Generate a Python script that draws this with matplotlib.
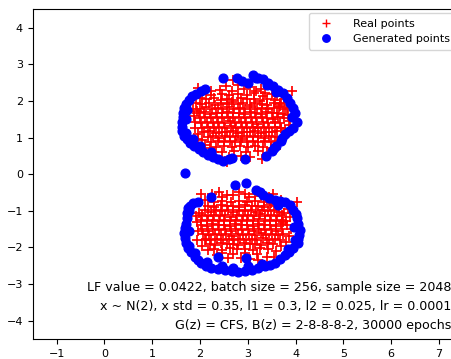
import matplotlib
matplotlib.use("Agg")
import matplotlib.pyplot as plt

# ---- data ----
real_upper = [
    (2.42,2.31),(2.66,2.28),(2.93,2.33),(3.18,2.27),(3.36,2.22),
    (2.22,2.17),(2.45,2.20),(2.60,2.15),(2.79,2.19),(2.98,2.16),(3.13,2.21),(3.31,2.14),(3.50,2.18),
    (2.13,2.04),(2.30,2.07),(2.43,2.02),(2.57,2.06),(2.70,2.03),(2.85,2.08),(2.99,2.04),(3.12,2.06),(3.25,2.01),(3.41,2.05),(3.57,2.03),
    (2.04,1.92),(2.18,1.95),(2.31,1.90),(2.43,1.94),(2.56,1.91),(2.67,1.96),(2.79,1.92),(2.91,1.94),(3.04,1.90),(3.16,1.95),(3.29,1.92),(3.41,1.89),(3.54,1.94),(3.67,1.91),
    (2.01,1.79),(2.12,1.82),(2.25,1.78),(2.37,1.81),(2.48,1.77),(2.60,1.82),(2.72,1.79),(2.84,1.81),(2.95,1.78),(3.07,1.82),(3.19,1.79),(3.30,1.81),(3.42,1.77),(3.54,1.80),(3.66,1.82),(3.77,1.78),
    (1.97,1.66),(2.09,1.69),(2.21,1.65),(2.34,1.68),(2.46,1.66),(2.57,1.70),(2.69,1.66),(2.81,1.68),(2.92,1.65),(3.04,1.69),(3.16,1.67),(3.27,1.64),(3.39,1.69),(3.51,1.66),(3.62,1.68),(3.74,1.65),
    (1.99,1.53),(2.11,1.56),(2.23,1.52),(2.36,1.55),(2.47,1.53),(2.59,1.57),(2.70,1.52),(2.82,1.55),(2.94,1.53),(3.06,1.56),(3.17,1.52),(3.29,1.55),(3.41,1.54),(3.52,1.51),(3.64,1.56),(3.76,1.53),
    (2.02,1.40),(2.14,1.43),(2.27,1.39),(2.38,1.42),(2.50,1.40),(2.62,1.44),(2.73,1.39),(2.85,1.42),(2.97,1.40),(3.08,1.43),(3.20,1.38),(3.32,1.42),(3.43,1.40),(3.56,1.43),(3.67,1.39),
    (2.05,1.27),(2.16,1.30),(2.29,1.26),(2.40,1.29),(2.52,1.27),(2.64,1.31),(2.75,1.26),(2.87,1.29),(2.99,1.27),(3.10,1.30),(3.22,1.25),(3.34,1.29),(3.45,1.27),(3.57,1.30),(3.69,1.26),
    (2.09,1.14),(2.21,1.17),(2.34,1.13),(2.45,1.16),(2.57,1.14),(2.69,1.18),(2.80,1.13),(2.92,1.16),(3.04,1.14),(3.15,1.17),(3.27,1.12),(3.39,1.16),(3.50,1.14),(3.62,1.17),
    (2.16,1.01),(2.28,1.04),(2.40,1.00),(2.52,1.03),(2.63,1.01),(2.75,1.05),(2.87,1.00),(2.98,1.03),(3.10,1.01),(3.22,1.04),(3.33,0.99),(3.45,1.03),(3.57,1.01),
    (2.24,0.88),(2.37,0.91),(2.50,0.87),(2.62,0.90),(2.74,0.88),(2.86,0.92),(2.98,0.87),(3.10,0.90),(3.22,0.88),(3.35,0.91),(3.48,0.87),
    (2.34,0.75),(2.51,0.78),(2.67,0.74),(2.84,0.77),(3.00,0.75),(3.16,0.78),(3.32,0.74),
    (2.46,0.61),(2.71,0.64),(2.96,0.60),(3.21,0.63),
    (2.69,2.58),(1.96,2.36),(3.92,2.27),(2.24,2.27),(1.93,1.72),(1.89,1.41),(3.88,1.45),(3.70,1.27),
    (3.29,0.41),(2.56,0.32),(1.96,0.95),(3.67,1.86),(2.05,2.18),(3.75,2.05),(3.85,1.62),(1.88,1.58),
    (2.10,0.80),(3.60,0.70),(2.85,0.50),(3.05,0.48),(2.30,0.60),(3.80,1.10),
    (2.55,2.40),(2.80,2.42),(3.05,2.38),(3.28,2.32),(3.62,2.12),(3.70,1.95),(3.82,1.80),(3.86,1.35),
    (3.78,1.20),(3.62,0.90),(3.48,0.72),(3.40,0.58),(2.60,0.48),(2.20,0.72),(2.05,0.92),(1.96,1.10),
    (1.90,1.25),(1.86,1.78),(1.92,1.95),(2.00,2.08),
]

real_lower = [
    (2.45,-0.62),(2.70,-0.58),(3.02,-0.63),(3.28,-0.60),
    (2.30,-0.75),(2.47,-0.72),(2.64,-0.76),(2.81,-0.73),(2.98,-0.77),(3.15,-0.72),(3.33,-0.75),(3.48,-0.78),
    (2.17,-0.86),(2.30,-0.89),(2.43,-0.85),(2.56,-0.88),(2.69,-0.86),(2.82,-0.90),(2.95,-0.85),(3.08,-0.88),(3.21,-0.86),(3.34,-0.89),(3.47,-0.85),(3.60,-0.88),
    (2.10,-0.99),(2.22,-1.02),(2.34,-0.98),(2.46,-1.01),(2.58,-0.99),(2.70,-1.03),(2.82,-0.98),(2.94,-1.01),(3.06,-0.99),(3.18,-1.02),(3.30,-0.97),(3.42,-1.01),(3.54,-0.99),(3.66,-1.02),
    (2.05,-1.12),(2.17,-1.15),(2.29,-1.11),(2.41,-1.14),(2.53,-1.12),(2.65,-1.16),(2.77,-1.11),(2.89,-1.14),(3.01,-1.12),(3.13,-1.15),(3.25,-1.10),(3.37,-1.14),(3.49,-1.12),(3.61,-1.15),(3.72,-1.11),
    (2.03,-1.25),(2.15,-1.28),(2.27,-1.24),(2.39,-1.27),(2.51,-1.25),(2.63,-1.29),(2.75,-1.24),(2.87,-1.27),(2.99,-1.25),(3.11,-1.28),(3.23,-1.23),(3.35,-1.27),(3.47,-1.25),(3.59,-1.28),(3.71,-1.24),(3.80,-1.27),
    (2.02,-1.38),(2.14,-1.41),(2.26,-1.37),(2.38,-1.40),(2.50,-1.38),(2.62,-1.42),(2.74,-1.37),(2.86,-1.40),(2.98,-1.38),(3.10,-1.41),(3.22,-1.36),(3.34,-1.40),(3.46,-1.38),(3.58,-1.41),(3.70,-1.37),(3.81,-1.40),
    (2.04,-1.51),(2.16,-1.54),(2.28,-1.50),(2.40,-1.53),(2.52,-1.51),(2.64,-1.55),(2.76,-1.50),(2.88,-1.53),(3.00,-1.51),(3.12,-1.54),(3.24,-1.49),(3.36,-1.53),(3.48,-1.51),(3.60,-1.54),(3.72,-1.50),
    (2.07,-1.64),(2.19,-1.67),(2.31,-1.63),(2.43,-1.66),(2.55,-1.64),(2.67,-1.68),(2.79,-1.63),(2.91,-1.66),(3.03,-1.64),(3.15,-1.67),(3.27,-1.62),(3.39,-1.66),(3.51,-1.64),(3.63,-1.67),(3.74,-1.63),
    (2.12,-1.77),(2.24,-1.80),(2.36,-1.76),(2.48,-1.79),(2.60,-1.77),(2.72,-1.81),(2.84,-1.76),(2.96,-1.79),(3.08,-1.77),(3.20,-1.80),(3.32,-1.75),(3.44,-1.79),(3.56,-1.77),(3.67,-1.80),
    (2.20,-1.90),(2.32,-1.93),(2.44,-1.89),(2.56,-1.92),(2.68,-1.90),(2.80,-1.94),(2.92,-1.89),(3.04,-1.92),(3.16,-1.90),(3.28,-1.93),(3.40,-1.88),(3.52,-1.92),
    (2.30,-2.03),(2.46,-2.06),(2.62,-2.02),(2.78,-2.05),(2.94,-2.03),(3.10,-2.06),(3.26,-2.01),(3.42,-2.05),
    (2.45,-2.16),(2.70,-2.19),(2.95,-2.15),(3.20,-2.18),
    (2.03,-0.53),(2.56,-0.57),(2.94,-0.53),(3.53,-0.53),(4.02,-0.75),(1.93,-1.30),(1.93,-1.80),
    (2.59,-2.29),(3.22,-2.34),(2.17,-2.07),(3.74,-1.30),(3.85,-0.95),(1.98,-1.05),(3.80,-1.85),
    (2.05,-1.95),(3.60,-2.10),(2.85,-2.30),(3.40,-2.25),(3.70,-0.70),(2.25,-0.55),
    (2.40,-0.50),(2.82,-0.48),(3.15,-0.55),(3.45,-0.62),(3.75,-1.05),(3.88,-1.18),(3.90,-1.50),(3.86,-1.68),
    (3.70,-1.95),(3.55,-2.25),(3.05,-2.32),(2.35,-2.20),(2.10,-1.80),(1.95,-1.55),(1.92,-1.15),(2.10,-0.70),
]

gen_upper = [
    (1.66,1.05),(1.63,1.18),(1.62,1.30),(1.63,1.42),(1.64,1.55),(1.65,1.68),(1.67,1.80),(1.70,1.92),
    (1.76,2.03),(1.83,2.12),(1.92,2.20),(2.02,2.28),(2.10,2.33),
    (1.72,0.95),(1.80,0.85),(1.88,0.76),(1.97,0.68),(2.07,0.60),(2.17,0.53),(2.27,0.47),(2.38,0.40),
    (2.48,0.36),(2.60,0.40),(2.66,0.44),
    (1.71,1.12),(1.70,1.50),(1.73,1.75),(1.85,0.95),(2.00,0.76),(2.22,0.60),
    (2.49,2.63),(2.77,2.63),(2.87,2.54),(3.01,2.50),(3.11,2.72),(3.22,2.63),(3.32,2.59),(3.43,2.50),
    (3.53,2.41),(3.64,2.31),(3.74,2.22),(3.81,2.09),(3.88,1.95),(3.95,1.81),(3.99,1.68),(4.02,1.41),
    (3.95,1.27),(3.87,1.18),(3.78,1.09),(3.70,0.91),(3.60,0.77),(3.50,0.64),(3.39,0.50),(2.94,0.41),
    (3.17,2.62),(3.40,2.42),(3.60,2.25),(3.72,0.98),(3.55,0.72),(3.92,1.55),
    (1.68,0.03),
]

gen_lower = [
    (2.73,-0.30),(2.97,-0.23),(2.24,-0.62),(3.18,-0.43),(3.25,-0.50),(3.32,-0.57),(3.45,-0.66),(3.57,-0.71),
    (3.68,-0.73),(3.78,-0.75),(3.64,-0.84),(3.88,-0.85),(3.95,-0.98),(4.00,-1.10),(4.02,-1.21),(4.05,-1.35),
    (4.09,-1.52),(4.08,-1.65),(4.06,-1.78),(4.05,-1.89),(3.95,-2.02),(3.87,-2.12),(3.78,-2.20),(3.68,-2.32),
    (3.57,-2.43),(3.47,-2.48),(3.36,-2.52),(3.22,-2.57),(3.08,-2.61),(2.94,-2.64),(2.80,-2.66),(2.66,-2.64),
    (2.52,-2.61),(2.38,-2.59),(2.24,-2.57),(2.13,-2.50),(2.03,-2.43),(1.95,-2.34),(1.89,-2.25),(1.82,-2.13),
    (1.75,-2.02),(1.71,-1.88),(1.68,-1.75),(1.67,-1.62),(1.68,-1.48),(1.70,-1.35),(1.72,-1.21),(1.73,-1.07),
    (1.75,-0.93),(1.86,-0.80),(1.80,-0.86),(1.95,-0.75),(2.38,-2.25),(2.97,-2.29),
    (2.45,-2.50),(2.70,-2.55),(3.00,-2.52),(3.30,-2.45),(2.15,-2.40),
    (1.78,-1.00),(1.76,-1.55),(1.78,-1.95),(1.90,-2.15),(3.96,-1.45),(3.98,-1.80),(3.85,-2.05),
]

info_lines = [
    "LF value = 0.0422, batch size = 256, sample size = 2048",
    "x ~ N(2), x std = 0.35, l1 = 0.3, l2 = 0.025, lr = 0.0001",
    "G(z) = CFS, B(z) = 2-8-8-8-2, 30000 epochs",
]
xticks = [-1, 0, 1, 2, 3, 4, 5, 6, 7]
yticks = [-4, -3, -2, -1, 0, 1, 2, 3, 4]

# ---- figure ----
W, H = 452, 359
fig = plt.figure(figsize=(W / 100, H / 100), dpi=100)
ax = fig.add_axes([32.7 / W, 1 - 339 / H, 430.2 / W, (339 - 9.3) / H])

real = real_upper + real_lower
gen = gen_upper + gen_lower
ax.plot([p[0] for p in real], [p[1] for p in real], 'r+', ms=7, mew=1.25,
        linestyle='none', label='Real points')
ax.plot([p[0] for p in gen], [p[1] for p in gen], 'bo', ms=6.3,
        linestyle='none', label='Generated points')

ax.set_xlim(-1.5, 7.5)
ax.set_ylim(-4.5, 4.5)
ax.set_xticks(xticks)
ax.set_yticks(yticks)
ax.tick_params(labelsize=8, length=3.5)

leg = ax.legend(loc='upper left', bbox_to_anchor=(309 / W, 1 - 13 / H),
                bbox_transform=fig.transFigure, fontsize=8, borderaxespad=0,
                handletextpad=1.5, borderpad=0.5, markerscale=0.85)
leg.legend_handles[0].set_markeredgewidth(1.0)

for line, yp in zip(info_lines, [287, 306.5, 325]):
    fig.text(451 / W, 1 - yp / H, line, ha='right', va='center', fontsize=9.05)

fig.savefig("out.png", dpi=100)
